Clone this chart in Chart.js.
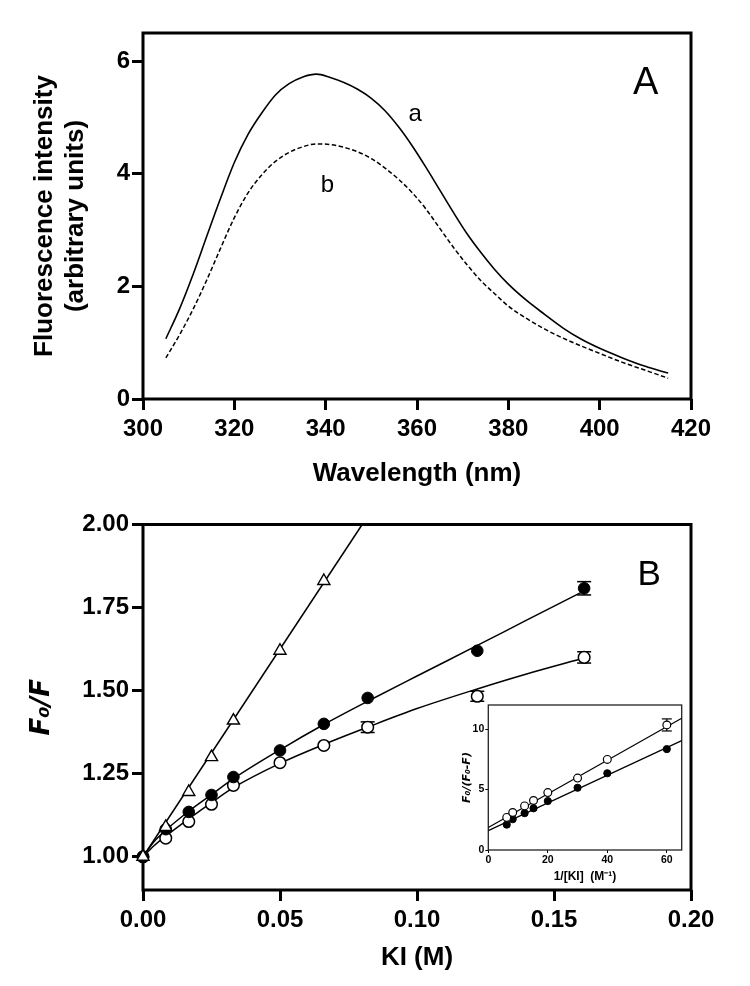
<!DOCTYPE html>
<html><head><meta charset="utf-8">
<script src="https://cdn.jsdelivr.net/npm/chart.js@4.4.1/dist/chart.umd.min.js"></script>
<style>
html,body{margin:0;padding:0;background:#fff;width:750px;height:986px;overflow:hidden;}
canvas{position:absolute;}
#cA{left:0;top:0;} #cB{left:0;top:490px;} #cI{left:440px;top:695px;}
</style></head><body>
<canvas id="cA" width="750" height="490"></canvas>
<canvas id="cB" width="750" height="496"></canvas>
<canvas id="cI" width="250" height="200"></canvas>
<script>
// ---------- Panel A : emission spectra ----------
const wavelength = [305,308,311,314,317,320,323,326,329,332,335,338,341,344,347,350,353,356,359,362,365,368,371,374,377,380,384,388,392,396,400,405,410,415];
const intensityA = [1.07,1.60,2.22,2.90,3.57,4.20,4.70,5.08,5.40,5.60,5.72,5.77,5.71,5.62,5.50,5.34,5.12,4.83,4.49,4.11,3.71,3.31,2.93,2.60,2.30,2.04,1.75,1.50,1.26,1.06,0.90,0.73,0.58,0.46];
const intensityB = [0.73,1.14,1.60,2.12,2.68,3.22,3.66,3.98,4.22,4.38,4.48,4.53,4.52,4.47,4.39,4.27,4.10,3.90,3.66,3.37,3.03,2.69,2.38,2.10,1.87,1.65,1.43,1.24,1.08,0.94,0.81,0.65,0.51,0.37];
const ticksAX = [300,320,340,360,380,400,420];
const ticksAY = [0,2,4,6];

// ---------- Panel B : Stern-Volmer ----------
const kiConc      = [0, 0.0083, 0.0167, 0.025, 0.033, 0.05, 0.066, 0.082, 0.122, 0.161];
const ratioFilled = [1.00, 1.083, 1.135, 1.186, 1.240, 1.320, 1.400, 1.478, 1.620, 1.808];
const ratioOpen   = [1.00, 1.056, 1.106, 1.158, 1.215, 1.283, 1.335, 1.390, 1.483, 1.600];
const errFilled   = [0, 0, 0, 0, 0, 0, 0, 0, 0, 0.020];
const errOpen     = [0, 0, 0, 0, 0, 0, 0, 0.016, 0.015, 0.017];
const kiTri       = [0, 0.0083, 0.0167, 0.025, 0.033, 0.05, 0.066];
const ratioTri    = [1.00, 1.09, 1.195, 1.30, 1.41, 1.62, 1.83];
const fitX        = [0, 0.004, 0.0083, 0.0167, 0.025, 0.033, 0.05, 0.066, 0.082, 0.10, 0.122, 0.14, 0.161];
const fitFilled   = [1.0, 1.045, 1.080, 1.137, 1.187, 1.235, 1.322, 1.398, 1.468, 1.544, 1.636, 1.712, 1.800];
const fitOpen     = [1.0, 1.033, 1.062, 1.114, 1.163, 1.208, 1.281, 1.338, 1.390, 1.446, 1.505, 1.550, 1.598];
const fitTriX     = [0, 0.08];
const fitTri      = [1.0, 2.0];
const ticksBX = [0, 0.05, 0.10, 0.15, 0.20];
const ticksBY = [1.00, 1.25, 1.50, 1.75, 2.00];

// ---------- Inset : modified Stern-Volmer ----------
const invKI        = [6.2, 8.2, 12.2, 15.2, 20, 30, 40, 60];
const insetOpen    = [2.7, 3.1, 3.65, 4.1, 4.75, 5.95, 7.5, 10.35];
const insetFilled  = [2.1, 2.55, 3.05, 3.45, 4.05, 5.15, 6.35, 8.35];
const insetErrOpen = [0, 0, 0, 0, 0, 0, 0, 0.5];
const insetFitX    = [0, 65];
const insetFitOpen = [1.86, 10.9];
const insetFitFill = [1.60, 9.05];
const ticksIX = [0, 20, 40, 60];
const ticksIY = [0, 5, 10];

// ---------- helpers ----------
const FONT = "'Liberation Sans', Arial, Helvetica, sans-serif";
const SUBFONT = "'DejaVu Sans', 'Liberation Sans', sans-serif";
Chart.defaults.font.family = FONT;
Chart.defaults.color = '#000';

const pts = (xs, ys) => xs.map((x, i) => ({x: x, y: ys[i]}));

function scale(o) {
  return {
    type: 'linear', min: o.min, max: o.max,
    afterBuildTicks: ax => { ax.ticks = o.ticks.map(v => ({value: v})); },
    afterFit: ax => { if (o.width !== undefined) ax.width = o.width; if (o.height !== undefined) ax.height = o.height; },
    grid: { display: true, drawOnChartArea: false, drawTicks: true, tickLength: o.tl, tickWidth: o.tw, tickColor: '#000', color: '#000', lineWidth: o.tw },
    border: { display: false },
    ticks: { font: o.font, color: '#000', padding: o.pad, callback: o.fmt, maxRotation: 0, minRotation: 0, autoSkip: false },
    title: { display: true, text: o.title, font: o.titleFont, color: '#000', padding: o.titlePad }
  };
}

function framePlugin(width, color) {
  return { id: 'frame', beforeDatasetsDraw(chart) {
    const {ctx, chartArea: a} = chart;
    ctx.save(); ctx.strokeStyle = color; ctx.lineWidth = width;
    ctx.strokeRect(a.left, a.top, a.right - a.left, a.bottom - a.top);
    ctx.restore();
  }};
}
function notesPlugin(items) {
  return { id: 'notes', afterDatasetsDraw(chart) {
    const ctx = chart.ctx;
    items.forEach(it => {
      const x = chart.scales.x.getPixelForValue(it.x), y = chart.scales.y.getPixelForValue(it.y);
      ctx.save(); ctx.font = it.font; ctx.fillStyle = '#000'; ctx.textAlign = 'center'; ctx.textBaseline = 'alphabetic';
      ctx.fillText(it.text, x, y); ctx.restore();
    });
  }};
}
function errorBars(xs, ys, es, cap, lw) {
  const out = [];
  xs.forEach((x, i) => {
    if (es[i] > 0) out.push({
      data: [{x: x, y: ys[i] - es[i]}, {x: x, y: ys[i] + es[i]}],
      showLine: true, borderColor: '#000', borderWidth: lw,
      pointStyle: 'line', pointRadius: cap, pointBorderWidth: lw, pointBorderColor: '#000', clip: false
    });
  });
  return out;
}
const common = (pad, xs, ys) => ({
  responsive: false, animation: false, events: [],
  layout: { padding: pad },
  plugins: { legend: { display: false }, tooltip: { enabled: false } },
  scales: { x: xs, y: ys }
});

const tickFont = { family: FONT, size: 24, weight: 'bold' };
const titleFont = { family: FONT, size: 26, weight: 'bold', lineHeight: 1.2 };

// ---------- Chart A ----------
new Chart(document.getElementById('cA'), {
  type: 'scatter',
  data: { datasets: [
    { data: pts(wavelength, intensityA), showLine: true, borderColor: '#000', borderWidth: 1.6, pointRadius: 0, cubicInterpolationMode: 'monotone', clip: false },
    { data: pts(wavelength, intensityB), showLine: true, borderColor: '#000', borderWidth: 1.5, borderDash: [4.5, 2.5], pointRadius: 0, cubicInterpolationMode: 'monotone', clip: false }
  ]},
  options: common({top: 33, right: 59, bottom: 0, left: 0},
    scale({min: 300, max: 420, ticks: ticksAX, fmt: v => String(v), font: tickFont, tl: 11, tw: 3, pad: 5, height: 91,
           title: 'Wavelength (nm)', titleFont: titleFont, titlePad: {top: 0, bottom: 1}}),
    scale({min: 0, max: 6.5, ticks: ticksAY, fmt: v => String(v), font: tickFont, tl: 11, tw: 3, pad: 2, width: 143,
           title: ['Fluorescence intensity', '(arbitrary units)'], titleFont: titleFont, titlePad: {top: 29, bottom: 0}})),
  plugins: [framePlugin(3, '#000'), notesPlugin([
    {text: 'A', x: 410.1, y: 5.41, font: "38px " + FONT},
    {text: 'a', x: 359.6, y: 4.93, font: "24px " + FONT},
    {text: 'b', x: 340.4, y: 3.68, font: "24px " + FONT}
  ])]
});

// ---------- Chart B ----------
new Chart(document.getElementById('cB'), {
  type: 'scatter',
  data: { datasets: [
    { data: pts(kiTri, ratioTri), pointStyle: 'triangle', pointRadius: 7, pointBackgroundColor: '#fff', pointBorderColor: '#000', pointBorderWidth: 1.4, showLine: false, clip: false },
    { data: pts(kiConc, ratioFilled), pointStyle: 'circle', pointRadius: 5.8, pointBackgroundColor: '#000', pointBorderColor: '#000', pointBorderWidth: 1, showLine: false, clip: false },
    { data: pts(kiConc, ratioOpen), pointStyle: 'circle', pointRadius: 5.8, pointBackgroundColor: '#fff', pointBorderColor: '#000', pointBorderWidth: 1.5, showLine: false, clip: false },
    { data: pts(fitTriX, fitTri), showLine: true, borderColor: '#000', borderWidth: 1.5, pointRadius: 0, clip: false },
    { data: pts(fitX, fitFilled), showLine: true, borderColor: '#000', borderWidth: 1.5, pointRadius: 0, cubicInterpolationMode: 'monotone', clip: false },
    { data: pts(fitX, fitOpen), showLine: true, borderColor: '#000', borderWidth: 1.5, pointRadius: 0, cubicInterpolationMode: 'monotone', clip: false }
  ].concat(errorBars(kiConc, ratioFilled, errFilled, 7, 1.5), errorBars(kiConc, ratioOpen, errOpen, 7, 1.5)) },
  options: common({top: 34.5, right: 59, bottom: 0, left: 0},
    scale({min: 0, max: 0.2, ticks: ticksBX, fmt: v => v.toFixed(2), font: tickFont, tl: 11, tw: 3, pad: 5, height: 96,
           title: 'KI (M)', titleFont: titleFont, titlePad: {top: 0, bottom: 13}}),
    scale({min: 0.9, max: 2.0, ticks: ticksBY, fmt: v => v.toFixed(2), font: tickFont, tl: 11, tw: 3, pad: 3, width: 143,
           title: 'F\u2080/F', titleFont: {family: SUBFONT, size: 26, weight: 'bold', style: 'italic', lineHeight: 1.2}, titlePad: {top: 27, bottom: 0}})),
  plugins: [framePlugin(3, '#000'), notesPlugin([
    {text: 'B', x: 0.1847, y: 1.818, font: "35px " + FONT}
  ])]
});

// ---------- Inset ----------
const insetTick = { family: FONT, size: 10.5, weight: 'bold' };
new Chart(document.getElementById('cI'), {
  type: 'scatter',
  data: { datasets: [
    { data: pts(invKI, insetOpen), pointStyle: 'circle', pointRadius: 3.9, pointBackgroundColor: '#fff', pointBorderColor: '#000', pointBorderWidth: 1.2, showLine: false, clip: false },
    { data: pts(invKI, insetFilled), pointStyle: 'circle', pointRadius: 3.6, pointBackgroundColor: '#000', pointBorderColor: '#000', pointBorderWidth: 1, showLine: false, clip: false },
    { data: pts(insetFitX, insetFitOpen), showLine: true, borderColor: '#000', borderWidth: 1.2, pointRadius: 0, clip: false },
    { data: pts(insetFitX, insetFitFill), showLine: true, borderColor: '#000', borderWidth: 1.2, pointRadius: 0, clip: false }
  ].concat(errorBars(invKI, insetOpen, insetErrOpen, 5, 1.2)) },
  options: common({top: 10, right: 8.3, bottom: 0, left: 0},
    scale({min: 0, max: 65, ticks: ticksIX, fmt: v => String(v), font: insetTick, tl: 3, tw: 1, pad: 1, height: 45,
           title: '1/[KI]  (M\u207B\u00B9)', titleFont: {family: FONT, size: 12, weight: 'bold', lineHeight: 1.2}, titlePad: {top: 0, bottom: 11}}),
    scale({min: 0, max: 12, ticks: ticksIY, fmt: v => String(v), font: insetTick, tl: 3, tw: 1, pad: 1, width: 48.3,
           title: 'F\u2080/(F\u2080-F)', titleFont: {family: SUBFONT, size: 11, weight: 'bold', style: 'italic', lineHeight: 1.2}, titlePad: {top: 20.5, bottom: 0}})),
  plugins: [framePlugin(1.3, '#222')]
});
</script>
</body></html>
